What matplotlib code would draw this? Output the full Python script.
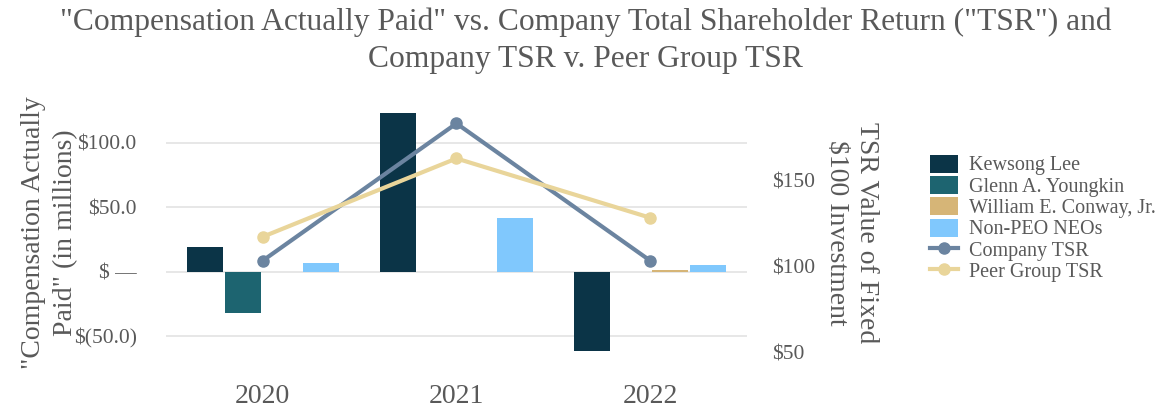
import numpy as np
import matplotlib.pyplot as plt
from matplotlib.ticker import FuncFormatter

years = ["2020", "2021", "2022"]
kewsong_lee = [19.4, 122.8, -61.5]
glenn_youngkin = [-31.8, 0.0, 0.0]
william_conway = [0.0, 0.0, 1.2]
non_peo_neos = [6.7, 41.9, 5.4]
company_tsr = [103.5, 183.4, 103.5]
peer_tsr = [117.4, 163.0, 128.5]

bar_series = [
    ("Kewsong Lee", kewsong_lee, "#0b3447"),
    ("Glenn A. Youngkin", glenn_youngkin, "#1d6470"),
    ("William E. Conway, Jr.", william_conway, "#d6b577"),
    ("Non-PEO NEOs", non_peo_neos, "#80c8fd"),
]

plt.rcParams['font.family'] = ['Liberation Serif', 'DejaVu Serif']
grey = "#595959"

fig = plt.figure(figsize=(11.6, 4.07), dpi=100)
ax = fig.add_axes([0.143, 0.111, 0.501, 0.633])
ax2 = ax.twinx()

x = np.arange(len(years))
w = 0.2
for i, (name, vals, col) in enumerate(bar_series):
    ax.bar(x + (i - 1.5) * w, vals, w * 0.93, color=col, label=name, zorder=2)

ax.set_xlim(-0.5, 2.5)
ax.set_ylim(-70, 130)
ax.set_yticks([-50, 0, 50, 100])

def money(v, pos):
    if v == 0:
        return "$ \u2014"
    if v < 0:
        return "$(%.1f)" % abs(v)
    return "$%.1f" % v

ax.yaxis.set_major_formatter(FuncFormatter(money))
ax.grid(axis='y', color="#e3e3e3", linewidth=1.2, zorder=0)
ax.set_axisbelow(True)
ax.set_xticks(x)
ax.set_xticklabels(years, fontsize=20, color=grey)
ax.tick_params(axis='x', length=0, pad=16)
ax.tick_params(axis='y', length=0, labelsize=15.5, labelcolor=grey, pad=21)
for s in ax.spines.values():
    s.set_visible(False)
ax.set_ylabel("\"Compensation Actually\nPaid\" (in millions)", fontsize=20,
              color=grey, labelpad=-3, linespacing=1.35)

ax2.plot(x, company_tsr, color="#6b84a0", linewidth=3, marker='o', markersize=8,
         label="Company TSR", zorder=3)
ax2.plot(x, peer_tsr, color="#e9d59a", linewidth=3, marker='o', markersize=8,
         label="Peer Group TSR", zorder=3)
ax2.set_ylim(44.6, 194.6)
ax2.set_yticks([50, 100, 150])
ax2.yaxis.set_major_formatter(FuncFormatter(lambda v, p: "$%d" % v))
ax2.tick_params(axis='y', length=0, labelsize=15.5, labelcolor=grey, pad=18)
for s in ax2.spines.values():
    s.set_visible(False)
ax2.set_ylabel("TSR Value of Fixed\n$100 Investment", fontsize=20, color=grey,
               rotation=270, labelpad=46, linespacing=1.25)

h1, l1 = ax.get_legend_handles_labels()
h2, l2 = ax2.get_legend_handles_labels()
leg = ax2.legend(h1 + h2, l1 + l2, loc='upper left', bbox_to_anchor=(0.795, 0.64),
                 bbox_transform=fig.transFigure, frameon=False, fontsize=14.5,
                 handlelength=1.4, handleheight=1.0, labelspacing=0.02,
                 handletextpad=0.5, labelcolor=grey, borderaxespad=0)

fig.text(0.505, 0.945, "\"Compensation Actually Paid\" vs. Company Total Shareholder Return (\"TSR\") and",
         ha='center', va='center', fontsize=22.7, color=grey)
fig.text(0.505, 0.855, "Company TSR v. Peer Group TSR",
         ha='center', va='center', fontsize=22.7, color=grey)

fig.savefig("out.png", dpi=100)
